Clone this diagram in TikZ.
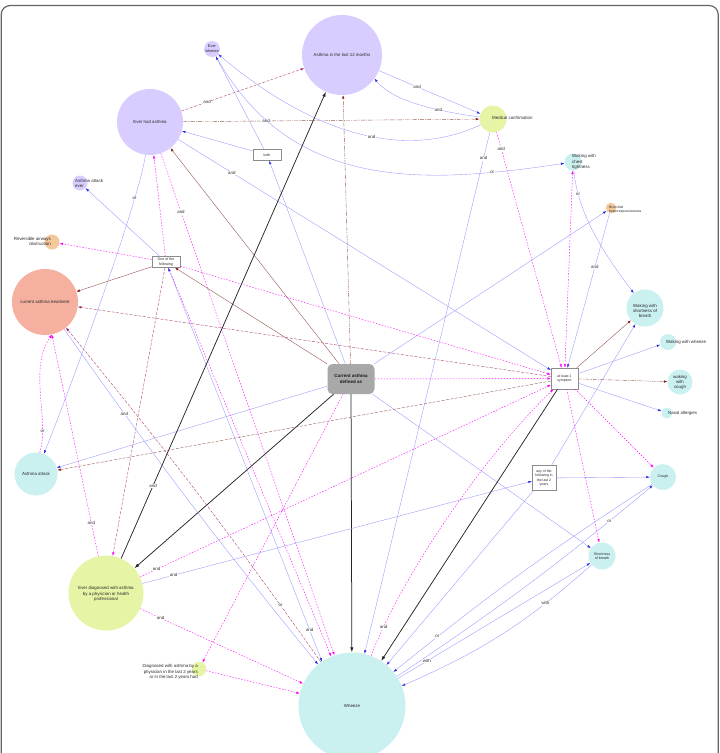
\documentclass[tikz,border=0pt]{standalone}
\usepackage{fontspec}
\setmainfont{Liberation Sans}
\usetikzlibrary{arrows.meta}
\definecolor{clav}{RGB}{217,205,255}
\definecolor{cgrn}{RGB}{230,244,166}
\definecolor{ccyn}{RGB}{203,240,240}
\definecolor{csal}{RGB}{245,176,160}
\definecolor{cpch}{RGB}{245,200,155}
\definecolor{cgry}{RGB}{168,168,168}
\definecolor{eblue}{RGB}{150,150,255}
\definecolor{ablue}{RGB}{40,40,230}
\definecolor{emag}{RGB}{255,0,255}
\definecolor{ebr}{RGB}{150,90,80}
\definecolor{abr}{RGB}{130,20,20}
\definecolor{epd}{RGB}{175,70,120}
\definecolor{apd}{RGB}{160,30,100}
\definecolor{ctxt}{RGB}{40,40,40}
\begin{document}
\begin{tikzpicture}[x=1pt,y=-1pt,
  cir/.style={circle,draw=none,inner sep=0pt},
  lavn/.style={cir,fill=clav},
  grnn/.style={cir,fill=cgrn},
  cyn/.style={cir,fill=ccyn},
  saln/.style={cir,fill=csal},
  pchn/.style={cir,fill=cpch},
  boxn/.style={rectangle,draw=black!45,line width=0.4pt,fill=white,inner sep=0pt,align=center,text=ctxt,font=\fontsize{3.5pt}{4.4pt}\selectfont},
  cnode/.style={rectangle,rounded corners=5pt,fill=cgry,draw=none,minimum width=47pt,minimum height=30pt,inner sep=0pt,align=center,text=black!90,font=\fontsize{4.5pt}{5.6pt}\selectfont\bfseries},
  tf/.style={inner sep=0pt,text=ctxt,align=center,font=\fontsize{4.4pt}{5.2pt}\selectfont},
  tfs/.style={inner sep=0pt,text=ctxt,align=center,font=\fontsize{3.6pt}{4.5pt}\selectfont},
  lbl/.style={font=\fontsize{4.4pt}{5pt}\selectfont,fill=white,inner sep=0.5pt,text=ctxt},
  bl/.style={draw=eblue,line width=0.35pt,-{Latex[length=3.5pt,width=2.4pt,color=ablue]}},
  blb/.style={draw=eblue,line width=0.35pt,{Latex[length=3.5pt,width=2.4pt,color=ablue]}-{Latex[length=3.5pt,width=2.4pt,color=ablue]}},
  mg/.style={draw=emag,line width=0.4pt,dash pattern=on 1.5pt off 1.5pt,-{Latex[length=3.5pt,width=2.4pt,color=emag]}},
  mgb/.style={draw=emag,line width=0.4pt,dash pattern=on 1.5pt off 1.5pt,{Latex[length=3.5pt,width=2.4pt,color=emag]}-{Latex[length=3.5pt,width=2.4pt,color=emag]}},
  brd/.style={draw=ebr,line width=0.4pt,dash pattern=on 4pt off 1.2pt on 1pt off 1.2pt,-{Latex[length=3.5pt,width=2.4pt,color=abr]}},
  brs/.style={draw=ebr,line width=0.4pt,-{Latex[length=3.5pt,width=2.4pt,color=abr]}},
  pd/.style={draw=epd,line width=0.4pt,dash pattern=on 3pt off 1.5pt,-{Latex[length=3.5pt,width=2.4pt,color=apd]}},
  pdm/.style={draw=epd,line width=0.4pt,dash pattern=on 3pt off 1.5pt,-{Latex[length=3.5pt,width=2.4pt,color=emag]}},
  pdb/.style={draw=ebr,line width=0.4pt,dash pattern=on 3pt off 1.5pt,-{Latex[length=3.5pt,width=2.4pt,color=abr]}},
  bk/.style={draw=black!85,line width=0.75pt,-{Latex[length=5pt,width=3.4pt]}}
]
\useasboundingbox (0,0) rectangle (720,753);
\clip (0,0) rectangle (720,753);
\fill[white] (0,0) rectangle (720,753);
\draw[draw=black!60,line width=1.2pt,rounded corners=9pt] (1.2,5.5) rectangle (718.2,800);

% circles
\node[lavn,minimum size=80pt] (a12) at (342,55) {};
\node[lavn,minimum size=16pt] (ew) at (212,49) {};
\node[lavn,minimum size=66pt] (eha) at (150,122) {};
\node[grnn,minimum size=27pt] (mc) at (493,119) {};
\node[lavn,minimum size=15pt] (aae) at (80,183) {};
\node[cyn,minimum size=17pt] (wct) at (573,162) {};
\node[pchn,minimum size=10.5pt] (bh) at (611,208) {};
\node[pchn,minimum size=15pt] (rao) at (52,242) {};
\node[saln,minimum size=66pt] (cat) at (45,302) {};
\node[cyn,minimum size=37pt] (wsb) at (645,308) {};
\node[cyn,minimum size=16pt] (www) at (668,342) {};
\node[cyn,minimum size=25pt] (wwc) at (680,382) {};
\node[cyn,minimum size=11pt] (na) at (667,413) {};
\node[cyn,minimum size=43pt] (aa) at (36,474) {};
\node[cyn,minimum size=26pt] (cough) at (663,477) {};
\node[cyn,minimum size=27pt] (sob) at (602,556) {};
\node[grnn,minimum size=75pt] (eda) at (106,593) {};
\node[grnn,minimum size=14.5pt] (d2y) at (199,669) {};
\node[cyn,minimum size=107pt] (wheeze) at (352,706) {};

% boxes
\node[boxn,minimum width=28pt,minimum height=11pt] (both) at (267,155) {both};
\node[boxn,minimum width=28pt,minimum height=11pt,font=\fontsize{3.6pt}{4.3pt}\selectfont] (oof) at (166,262) {One of the\\following};
\node[boxn,minimum width=27pt,minimum height=21pt] (al1) at (564.5,378.5) {at least 1\\symptom};
\node[boxn,minimum width=24pt,minimum height=25pt] (aof) at (544,478) {any of the\\following in\\the last 2\\years};
\node[cnode] (c) at (351,379) {Current asthma\\defined as};

% edges from the central node
\draw[brd] (c) -- (a12);
\draw[bl] (c) -- (both);
\draw[brs] (c) -- (eha);
\draw[brs] (c) -- (oof);
\draw[bl] (c) -- (aa);
\draw[bk] (c) -- (eda);
\draw[bk] (c) -- (wheeze);
\draw[mg] (c) -- (d2y);
\draw[bl] (c) -- (sob);
\draw[mg] (c) -- (al1);
\draw[bl] (c) -- (bh);

% upper part
\draw[pd] (eha) -- (a12) node[lbl,pos=0.21]{and};
\draw[brd] (eha) -- (mc) node[lbl,pos=0.28]{and};
\draw[bl] (a12) -- (mc) node[lbl,pos=0.375]{and};
\draw[bl] (mc) .. controls (430,110) and (392,100) .. (a12.-36) node[lbl,pos=0.3]{and};
\draw[bl] (mc) .. controls (410,158) and (320,140) .. (ew) node[lbl,pos=0.46]{and};
\draw[bl] (ew) .. controls (290,190) and (420,185) .. (wct) node[lbl,pos=0.83]{or};
\draw[bl] (both) -- (ew);
\draw[bl] (both) -- (eha);
\draw[bl] (eha) -- (al1) node[lbl,pos=0.144]{and};
\draw[bl] (eha) .. controls (140,195) and (85,350) .. (aa) node[lbl,pos=0.23]{or};
\draw[mg] (oof) -- (eha);
\draw[mg] (eha) -- (wheeze) node[lbl,pos=0.116]{and};

% one of the following
\draw[mg] (oof) -- (rao);
\draw[brs] (oof) -- (cat);
\draw[bl] (oof) -- (aae);
\draw[mg] (oof) -- (al1);
\draw[pdm] (oof) -- (eda);
\draw[mg] (oof) -- (wheeze);
\draw[blb] (oof) -- (wheeze.124) node[lbl,pos=0.92]{and};

% left side
\draw[bl] (cat) to[bend right=2] node[lbl,pos=0.23]{and} (wheeze);
\draw[pd] (wheeze) to[bend right=2] node[lbl,pos=0.15]{or} (cat);
\draw[bk] (eda) -- (a12) node[lbl,pos=0.156]{and};
\draw[mg] (eda) -- (cat) node[lbl,pos=0.15]{and};
\draw[mg] (aa.80) .. controls (50,420) and (28,370) .. (cat.-78) node[lbl,pos=0.2]{or};
\draw[mg] (eda) -- (al1) node[lbl,pos=0.04]{and};
\draw[bl] (eda) -- (aof) node[lbl,pos=0.08]{and};
\draw[mg] (eda) -- (wheeze) node[lbl,pos=0.125]{and};
\draw[mg] (d2y) -- (wheeze);

% at least 1 symptom
\draw[pd] (al1) -- (cat);
\draw[pdb] (al1) -- (aa);
\draw[mg] (mc) -- (al1) node[lbl,pos=0.07]{and};
\draw[bl] (mc) -- (wheeze) node[lbl,pos=0.05]{and};
\draw[mgb] (al1) -- (wct);
\draw[bl] (wct) .. controls (578,215) and (605,255) .. (wsb) node[lbl,pos=0.18]{or};
\draw[bl] (bh) -- (al1) node[lbl,pos=0.35]{and};
\draw[brs] (al1) -- (wsb);
\draw[bl] (al1) -- (www);
\draw[brd] (al1) -- (wwc);
\draw[bl] (al1) -- (na);
\draw[mg] (al1) -- (cough);
\draw[mg] (al1) -- (sob);
\draw[bk] (al1) -- (wheeze);

% lower right
\draw[bl] (aof) -- (cough);
\draw[bl] (aof) -- (wsb);
\draw[bl] (aof) -- (wheeze);
\draw[bl] (wheeze) to[bend right=3] node[lbl,pos=0.84]{or} (cough);
\draw[bl] (cough) to[bend right=3] node[lbl,pos=0.84]{or} (wheeze);
\draw[bl] (wheeze) -- (sob) node[lbl,pos=0.15]{with};
\draw[bl] (sob) to[bend left=9] node[lbl,pos=0.25]{with} (wheeze);
\draw[mg] (wheeze) .. controls (400,580) and (480,460) .. (al1) node[lbl,pos=0.12]{and};

% texts
\node[tf] (a12t) at (342,55) {Asthma in the last 12 months};
\node[tf,font=\fontsize{3.9pt}{5pt}\selectfont] (ewt) at (212,49) {Ever\\wheeze};
\node[tf] (ehat) at (150,122) {Ever had asthma};
\node[tf,anchor=west] (mct) at (492,118) {Medical confirmation};
\node[tf,anchor=west,align=left] (aaet) at (75,183.5) {Asthma attack\\ever};
\node[tf,anchor=west,align=left] (wctt) at (572,162) {Waking with\\chest\\tightness};
\node[tfs,anchor=west,align=left,font=\fontsize{3.4pt}{4.3pt}\selectfont] (bht) at (609,209.5) {Bronchial\\hyperresponsiveness};
\node[tf,anchor=east,align=right] (raot) at (51,241.5) {Reversible airways\\obstruction};
\node[tf] (catt) at (45,302) {current asthma treatment};
\node[tf,font=\fontsize{4.4pt}{5.4pt}\selectfont] (wsbt) at (645,311) {Waking with\\shortness of\\breath};
\node[tf,anchor=west] (wwwt) at (666,342) {Waking with wheeze};
\node[tf,font=\fontsize{4.4pt}{5pt}\selectfont] (wwct) at (680,382.5) {waking\\with\\cough};
\node[tf,anchor=west] (nat) at (668,413) {Nasal allergies};
\node[tf] (aat) at (36,474) {Asthma attack};
\node[tfs] (cought) at (663,477) {Cough};
\node[tfs] (sobt) at (602,556) {Shortness\\of breath};
\node[tf,font=\fontsize{4.4pt}{5.2pt}\selectfont] (edat) at (106,594) {Ever diagnosed with asthma\\by a physician or health\\professional};
\node[tf,anchor=east,align=right] (d2yt) at (198,672) {Diagnosed with asthma by a\\physician in the last 2 years\\or in the last 2 years had};
\node[tf] (wheezet) at (352,706) {Wheeze};
\end{tikzpicture}
\end{document}
